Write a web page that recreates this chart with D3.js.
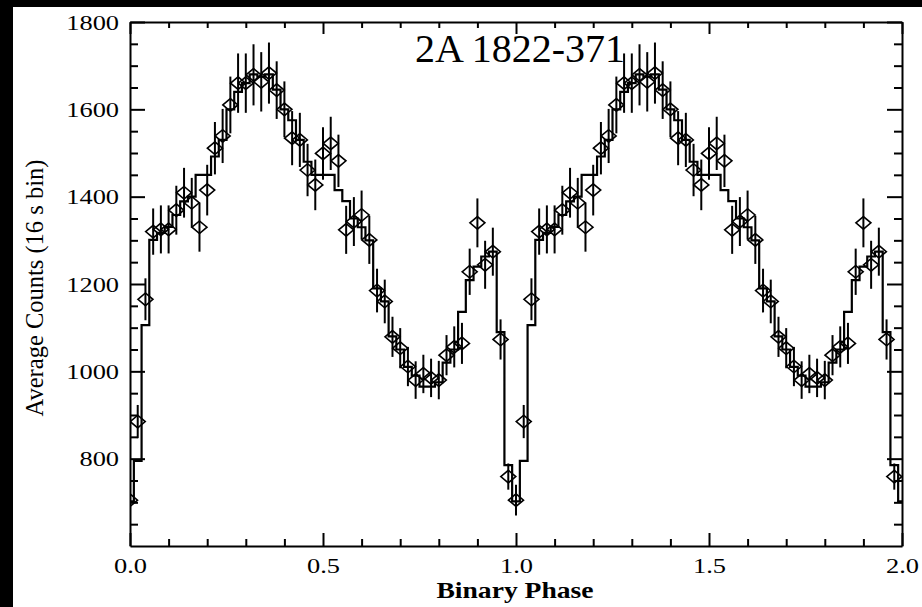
<!DOCTYPE html>
<html>
<head>
<meta charset="utf-8">
<script src="https://cdn.jsdelivr.net/npm/d3@7"></script>
<style>
  html, body { margin: 0; padding: 0; background: #fff; }
  svg { display: block; }
</style>
</head>
<body>
<svg id="chart" width="922" height="607"></svg>
<script>
// Folded light curve of 2A 1822-371: one cycle of 50 phase bins, drawn twice.
const phases = [0.00, 0.02, 0.04, 0.06, 0.08, 0.10, 0.12, 0.14, 0.16, 0.18,
                0.20, 0.22, 0.24, 0.26, 0.28, 0.30, 0.32, 0.34, 0.36, 0.38,
                0.40, 0.42, 0.44, 0.46, 0.48, 0.50, 0.52, 0.54, 0.56, 0.58,
                0.60, 0.62, 0.64, 0.66, 0.68, 0.70, 0.72, 0.74, 0.76, 0.78,
                0.80, 0.82, 0.84, 0.86, 0.88, 0.90, 0.92, 0.94, 0.96, 0.98];

// Measured counts (diamonds) and their 1-sigma errors
const counts = [705, 885, 1165, 1320, 1325, 1325, 1369, 1409, 1386, 1330,
                1415, 1511, 1539, 1610, 1660, 1660, 1679, 1663, 1683, 1644,
                1600, 1534, 1530, 1461, 1427, 1499, 1522, 1482, 1324, 1343,
                1358, 1301, 1185, 1160, 1079, 1053, 1011, 980, 994, 985,
                980, 1037, 1056, 1064, 1228, 1340, 1244, 1274, 1073, 759];
const countErr = [35, 38, 48, 53, 55, 55, 56, 57, 57, 56,
                  58, 60, 62, 65, 68, 68, 70, 68, 70, 66,
                  64, 62, 62, 60, 58, 60, 61, 60, 55, 56,
                  56, 55, 50, 50, 46, 46, 45, 43, 44, 44,
                  44, 46, 47, 47, 53, 56, 55, 55, 46, 30];

// Binned profile drawn as a histogram (same bins)
const stepCounts = [702, 795, 1106, 1301, 1317, 1331, 1358, 1389, 1400, 1450,
                    1450, 1492, 1530, 1600, 1640, 1660, 1680, 1675, 1680, 1645,
                    1600, 1575, 1530, 1480, 1450, 1450, 1450, 1415, 1390, 1350,
                    1330, 1300, 1190, 1160, 1080, 1050, 1010, 990, 965, 965,
                    975, 1020, 1050, 1136, 1209, 1240, 1263, 1274, 1090, 785];

const cycles = [0, 1];
const binHalfWidth = 0.01;

const xMajorTicks = [0, 0.5, 1, 1.5, 2];
const xMinorTicks = [0.1, 0.2, 0.3, 0.4, 0.6, 0.7, 0.8, 0.9, 1.1, 1.2, 1.3, 1.4, 1.6, 1.7, 1.8, 1.9];
const yMajorTicks = [800, 1000, 1200, 1400, 1600, 1800];
const yMinorTicks = [650, 700, 750, 850, 900, 950, 1050, 1100, 1150, 1250, 1300, 1350, 1450, 1500, 1550, 1650, 1700, 1750];

const titleText = "2A 1822-371";
const xTitle = "Binary Phase";
const yTitle = "Average Counts (16 s bin)";

const W = 922, H = 607;
const plot = { left: 130, top: 22, right: 902, bottom: 546 };
const stretch = 1.2; // horizontal stretch of the printed lettering

const svg = d3.select("#chart");

// page background and dark frame strips
svg.append("rect").attr("width", W).attr("height", H).attr("fill", "#fff");
svg.append("rect").attr("x", 0).attr("y", 0).attr("width", W).attr("height", 7).attr("fill", "#000");
svg.append("rect").attr("x", 0).attr("y", 0).attr("width", 13).attr("height", H).attr("fill", "#000");

const x = d3.scaleLinear().domain([0, 2]).range([plot.left, plot.right]);
const y = d3.scaleLinear().domain([600, 1800]).range([plot.bottom, plot.top]);

svg.append("clipPath").attr("id", "plotClip")
  .append("rect")
  .attr("x", plot.left).attr("y", plot.top)
  .attr("width", plot.right - plot.left).attr("height", plot.bottom - plot.top);

const g = svg.append("g").attr("clip-path", "url(#plotClip)");

// histogram outline across both cycles
const stepPts = [];
[...cycles, 2].forEach(c => {
  phases.forEach((p, i) => {
    const x0 = c + p - binHalfWidth;
    if (x0 <= 2) stepPts.push([x0, stepCounts[i]]);
  });
});
stepPts.push([2 + binHalfWidth, stepCounts[0]]);

g.append("path")
  .datum(stepPts)
  .attr("fill", "none")
  .attr("stroke", "#000")
  .attr("stroke-width", 2.2)
  .attr("d", d3.line().x(d => x(d[0])).y(d => y(d[1])).curve(d3.curveStepAfter));

// data points
const pts = [];
cycles.forEach(c => phases.forEach((p, i) => pts.push({ ph: c + p, v: counts[i], e: countErr[i] })));

g.selectAll("line.err").data(pts).join("line")
  .attr("class", "err")
  .attr("x1", d => x(d.ph)).attr("x2", d => x(d.ph))
  .attr("y1", d => y(d.v - d.e)).attr("y2", d => y(d.v + d.e))
  .attr("stroke", "#000").attr("stroke-width", 2);

const dx = 7.5, dy = 6.3;
g.selectAll("path.pt").data(pts).join("path")
  .attr("class", "pt")
  .attr("d", d => {
    const cx = x(d.ph), cy = y(d.v);
    return `M${cx - dx},${cy}L${cx},${cy - dy}L${cx + dx},${cy}L${cx},${cy + dy}Z`;
  })
  .attr("fill", "none")
  .attr("stroke", "#000")
  .attr("stroke-width", 1.6);

// axes
function styleAxis(sel) {
  sel.selectAll("path.domain").attr("stroke", "#000").attr("stroke-width", 2);
  sel.selectAll(".tick line").attr("stroke", "#000").attr("stroke-width", 2);
}

const labelFont = "'Liberation Serif', 'Times New Roman', serif";

// bottom
const gB = svg.append("g").attr("transform", `translate(0,${plot.bottom})`)
  .call(d3.axisBottom(x).tickValues(xMajorTicks).tickSizeInner(-13).tickSizeOuter(0)
        .tickPadding(11).tickFormat(d3.format(".1f")));
gB.call(styleAxis);
gB.selectAll("text")
  .attr("font-family", labelFont).attr("font-size", 22).attr("fill", "#000")
  .attr("transform", `scale(${stretch},1)`);
svg.append("g").attr("transform", `translate(0,${plot.bottom})`)
  .call(d3.axisBottom(x).tickValues(xMinorTicks).tickSizeInner(-7).tickSizeOuter(0).tickFormat(""))
  .call(styleAxis).select("path.domain").remove();

// top
const gT = svg.append("g").attr("transform", `translate(0,${plot.top})`)
  .call(d3.axisTop(x).tickValues(xMajorTicks).tickSizeInner(-12).tickSizeOuter(0).tickFormat(""));
gT.call(styleAxis);
svg.append("g").attr("transform", `translate(0,${plot.top})`)
  .call(d3.axisTop(x).tickValues(xMinorTicks).tickSizeInner(-6).tickSizeOuter(0).tickFormat(""))
  .call(styleAxis).select("path.domain").remove();

// left
const gL = svg.append("g").attr("transform", `translate(${plot.left},0)`)
  .call(d3.axisLeft(y).tickValues(yMajorTicks).tickSizeInner(-15).tickSizeOuter(0)
        .tickPadding(11).tickFormat(d3.format("d")));
gL.call(styleAxis);
gL.selectAll("text")
  .attr("font-family", labelFont).attr("font-size", 22).attr("fill", "#000")
  .attr("x", -11 / stretch)
  .attr("transform", `scale(${stretch},1)`);
svg.append("g").attr("transform", `translate(${plot.left},0)`)
  .call(d3.axisLeft(y).tickValues(yMinorTicks).tickSizeInner(-8).tickSizeOuter(0).tickFormat(""))
  .call(styleAxis).select("path.domain").remove();

// right
const gR = svg.append("g").attr("transform", `translate(${plot.right},0)`)
  .call(d3.axisRight(y).tickValues(yMajorTicks).tickSizeInner(-15).tickSizeOuter(0).tickFormat(""));
gR.call(styleAxis);
svg.append("g").attr("transform", `translate(${plot.right},0)`)
  .call(d3.axisRight(y).tickValues(yMinorTicks).tickSizeInner(-8).tickSizeOuter(0).tickFormat(""))
  .call(styleAxis).select("path.domain").remove();

// titles
svg.append("text")
  .attr("x", 520).attr("y", 62)
  .attr("text-anchor", "middle")
  .attr("font-family", labelFont).attr("font-size", 40).attr("fill", "#000")
  .text(titleText);

svg.append("text")
  .attr("transform", `translate(515,598) scale(${stretch},1)`)
  .attr("text-anchor", "middle")
  .attr("font-family", labelFont).attr("font-weight", "bold").attr("font-size", 23).attr("fill", "#000")
  .text(xTitle);

svg.append("text")
  .attr("transform", `translate(43,288) rotate(-90)`)
  .attr("text-anchor", "middle")
  .attr("font-family", labelFont).attr("font-size", 24.5).attr("fill", "#000")
  .text(yTitle);
</script>
</body>
</html>
